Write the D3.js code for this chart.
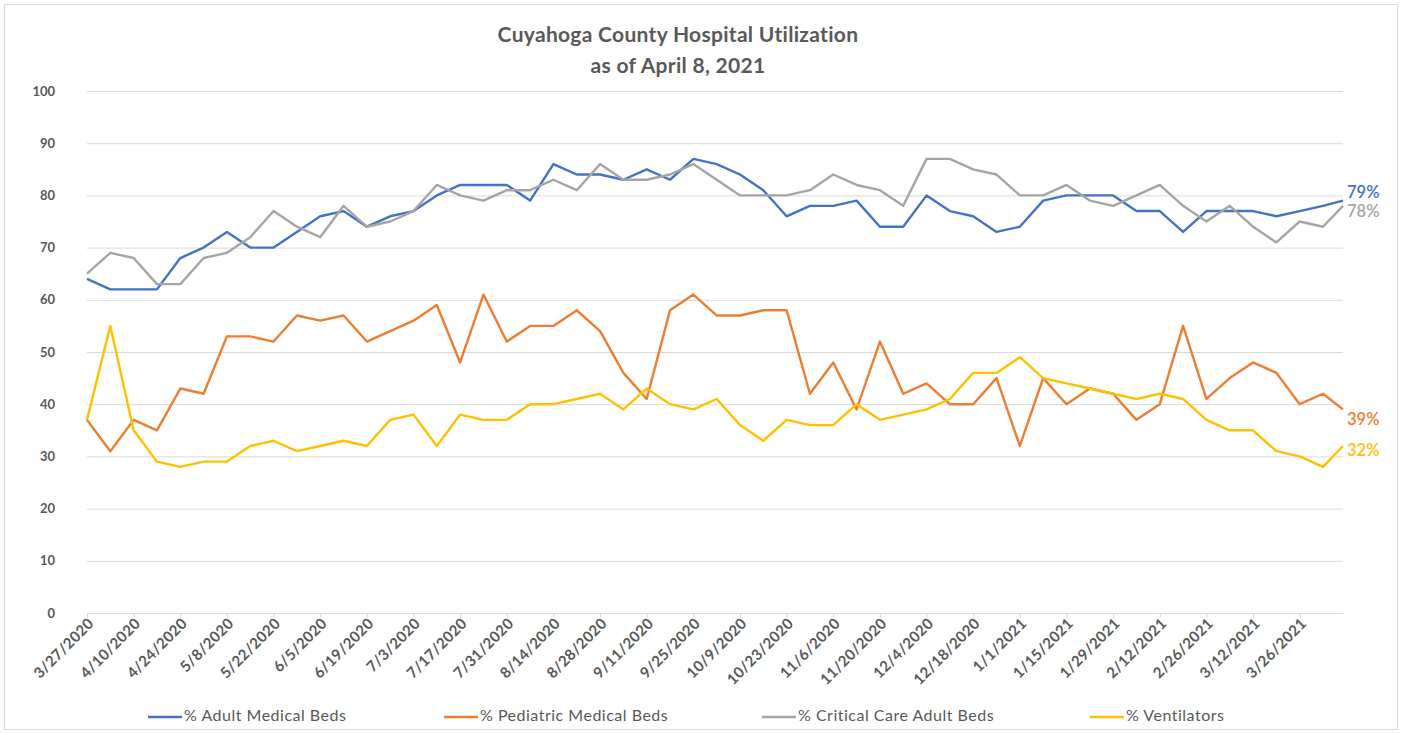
<!DOCTYPE html>
<html>
<head>
<meta charset="utf-8">
<script src="https://cdnjs.cloudflare.com/ajax/libs/d3/7.8.5/d3.min.js"></script>
<style>
	body { margin: 0; background: white; }
	svg { display: block; font-family: "Lato", "Open Sans", sans-serif; }
</style>
</head>
<body>
<svg></svg>
<script>
const dates = [
	"3/27/2020", "4/3/2020", "4/10/2020", "4/17/2020", "4/24/2020", "5/1/2020", "5/8/2020", "5/15/2020",
	"5/22/2020", "5/29/2020", "6/5/2020", "6/12/2020", "6/19/2020", "6/26/2020", "7/3/2020", "7/10/2020",
	"7/17/2020", "7/24/2020", "7/31/2020", "8/7/2020", "8/14/2020", "8/21/2020", "8/28/2020", "9/4/2020",
	"9/11/2020", "9/18/2020", "9/25/2020", "10/2/2020", "10/9/2020", "10/16/2020", "10/23/2020", "10/30/2020",
	"11/6/2020", "11/13/2020", "11/20/2020", "11/27/2020", "12/4/2020", "12/11/2020", "12/18/2020", "12/25/2020",
	"1/1/2021", "1/8/2021", "1/15/2021", "1/22/2021", "1/29/2021", "2/5/2021", "2/12/2021", "2/19/2021",
	"2/26/2021", "3/5/2021", "3/12/2021", "3/19/2021", "3/26/2021", "4/2/2021", "4/8/2021"
];

const tickLabels = [
	"3/27/2020", "4/10/2020", "4/24/2020", "5/8/2020", "5/22/2020", "6/5/2020", "6/19/2020", "7/3/2020",
	"7/17/2020", "7/31/2020", "8/14/2020", "8/28/2020", "9/11/2020", "9/25/2020", "10/9/2020", "10/23/2020",
	"11/6/2020", "11/20/2020", "12/4/2020", "12/18/2020", "1/1/2021", "1/15/2021", "1/29/2021", "2/12/2021",
	"2/26/2021", "3/12/2021", "3/26/2021"
];

const yTicks = [0, 10, 20, 30, 40, 50, 60, 70, 80, 90, 100];

const adultBeds = [
	64, 62, 62, 62, 68, 70, 73, 70, 70, 73, 76,
	77, 74, 76, 77, 80, 82, 82, 82, 79, 86, 84,
	84, 83, 85, 83, 87, 86, 84, 81, 76, 78, 78,
	79, 74, 74, 80, 77, 76, 73, 74, 79, 80, 80,
	80, 77, 77, 73, 77, 77, 77, 76, 77, 78, 79
];

const pediatricBeds = [
	37, 31, 37, 35, 43, 42, 53, 53, 52, 57, 56,
	57, 52, 54, 56, 59, 48, 61, 52, 55, 55, 58,
	54, 46, 41, 58, 61, 57, 57, 58, 58, 42, 48,
	39, 52, 42, 44, 40, 40, 45, 32, 45, 40, 43,
	42, 37, 40, 55, 41, 45, 48, 46, 40, 42, 39
];

const criticalBeds = [
	65, 69, 68, 63, 63, 68, 69, 72, 77, 74, 72,
	78, 74, 75, 77, 82, 80, 79, 81, 81, 83, 81,
	86, 83, 83, 84, 86, 83, 80, 80, 80, 81, 84,
	82, 81, 78, 87, 87, 85, 84, 80, 80, 82, 79,
	78, 80, 82, 78, 75, 78, 74, 71, 75, 74, 78
];

const ventilators = [
	37, 55, 35, 29, 28, 29, 29, 32, 33, 31, 32,
	33, 32, 37, 38, 32, 38, 37, 37, 40, 40, 41,
	42, 39, 43, 40, 39, 41, 36, 33, 37, 36, 36,
	40, 37, 38, 39, 41, 46, 46, 49, 45, 44, 43,
	42, 41, 42, 41, 37, 35, 35, 31, 30, 28, 32
];

const seriesNames = ["% Adult Medical Beds", "% Pediatric Medical Beds", "% Critical Care Adult Beds", "% Ventilators"];

function drawChart() {
	const width = 1403;
	const height = 733;
	const left = 87, right = 1343, top = 91, bottom = 613;
	const textColor = "#595959";

	const parseDate = d3.timeParse("%m/%d/%Y");

	let series = [
		{ name: seriesNames[0], values: adultBeds, color: "#4472C4", labelDy: -7 },
		{ name: seriesNames[1], values: pediatricBeds, color: "#ED7D31", labelDy: 11 },
		{ name: seriesNames[2], values: criticalBeds, color: "#A5A5A5", labelDy: 7 },
		{ name: seriesNames[3], values: ventilators, color: "#FFC000", labelDy: 6 }
	];

	let xScale = d3.scaleTime()
		.domain([parseDate(dates[0]), parseDate(dates[dates.length - 1])])
		.range([left, right]);

	let yScale = d3.scaleLinear()
		.domain([0, 100])
		.range([bottom, top]);

	let svg = d3.select("svg")
		.attr("width", width)
		.attr("height", height);

	// outer chart border
	svg.append("rect")
		.attr("x", 4.5)
		.attr("y", 4.5)
		.attr("width", 1393)
		.attr("height", 725)
		.attr("fill", "white")
		.attr("stroke", "#d9d9d9");

	// title
	let title = svg.append("text")
		.attr("x", 678)
		.attr("y", 42)
		.attr("text-anchor", "middle")
		.attr("fill", textColor)
		.style("font-size", "21px")
		.style("font-weight", "bold")
		.style("letter-spacing", "0.3px");
	title.append("tspan").attr("x", 678).text("Cuyahoga County Hospital Utilization");
	title.append("tspan").attr("x", 678).attr("dy", 31).text("as of April 8, 2021");

	let yAxis = d3.axisLeft(yScale)
		.tickValues(yTicks)
		.tickSize(-(right - left))
		.tickPadding(32)
		.tickFormat(d3.format("d"));

	svg.append("g")
		.attr("transform", `translate(${left}, 0)`)
		.call(yAxis)
		.call(g => g.select(".domain").remove())
		.call(g => g.selectAll(".tick line").attr("stroke", "#d9d9d9"))
		.call(g => g.selectAll(".tick text")
			.attr("fill", textColor)
			.style("font-size", "13px")
			.style("font-weight", "bold")
			.style("font-family", "Lato, sans-serif"));

	let xAxis = d3.axisBottom(xScale)
		.tickValues(tickLabels.map(parseDate))
		.tickSize(5)
		.tickSizeOuter(0)
		.tickFormat(d3.timeFormat("%-m/%-d/%Y"));

	svg.append("g")
		.attr("transform", `translate(0, ${bottom})`)
		.call(xAxis)
		.call(g => g.select(".domain").attr("stroke", "#d9d9d9"))
		.call(g => g.selectAll(".tick line").attr("stroke", "#d9d9d9"))
		.selectAll("text")
			.attr("fill", textColor)
			.style("font-size", "15px")
			.style("font-weight", "bold")
			.style("letter-spacing", "0.3px")
			.style("font-family", "Lato, sans-serif")
			.attr("text-anchor", "end")
			.attr("transform", "rotate(-45)")
			.attr("dx", "-0.2em")
			.attr("dy", "0.35em");

	let line = d3.line()
		.x((d, i) => xScale(parseDate(dates[i])))
		.y(d => yScale(d));

	svg.selectAll(".series")
		.data(series)
		.enter()
		.append("path")
			.classed("series", true)
			.attr("d", d => line(d.values))
			.attr("fill", "none")
			.attr("stroke", d => d.color)
			.attr("stroke-width", 2.4)
			.attr("stroke-linejoin", "round");

	// end labels
	svg.selectAll(".endLabel")
		.data(series)
		.enter()
		.append("text")
			.classed("endLabel", true)
			.attr("x", right + 4)
			.attr("y", d => yScale(d.values[d.values.length - 1]) + d.labelDy)
			.attr("dominant-baseline", "middle")
			.attr("fill", d => d.color)
			.style("font-size", "16.5px")
			.style("font-weight", "600")
			.text(d => d.values[d.values.length - 1] + "%");

	// legend
	const legendX = [148, 444, 762, 1090];
	let legend = svg.selectAll(".legendItem")
		.data(series)
		.enter()
		.append("g")
			.classed("legendItem", true)
			.attr("transform", (d, i) => `translate(${legendX[i]}, 717)`);

	legend.append("line")
		.attr("x1", 0)
		.attr("x2", 34)
		.attr("stroke", d => d.color)
		.attr("stroke-width", 2.4);

	legend.append("text")
		.attr("x", 36)
		.attr("dominant-baseline", "middle")
		.attr("fill", textColor)
		.style("font-size", "16px")
		.style("letter-spacing", "0.5px")
		.text(d => d.name);
}

document.addEventListener("DOMContentLoaded", drawChart);
</script>
</body>
</html>
